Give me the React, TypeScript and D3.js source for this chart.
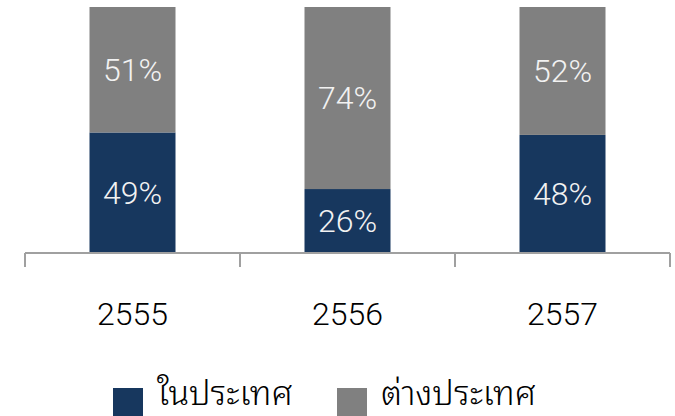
import React from "react";
import * as d3 from "d3";

const categories = ["2555", "2556", "2557"];
const domestic = [0.49, 0.26, 0.48];
const foreign = [0.51, 0.74, 0.52];
const seriesNames = ["ในประเทศ", "ต่างประเทศ"];
const seriesColors = ["#17375E", "#808080"];

const W = 675;
const H = 416;

export default function App() {
  const x = d3
    .scaleBand<string>()
    .domain(categories)
    .range([25, 670])
    .paddingInner(0.6)
    .paddingOuter(0.3);
  const y = d3.scaleLinear().domain([0, 1]).range([253, 7]);

  const rows = categories.map((c, i) => ({ cat: c, d: domestic[i], f: foreign[i] }));
  const stack = d3.stack<any>().keys(["d", "f"])(rows);

  const step = x.step();
  const tickXs = categories.map((c) => (x(c) as number) - step * 0.3);
  tickXs.push(670);

  const numFont = "Roboto, 'Liberation Sans', Arial, sans-serif";
  const thaiFont = "'Noto Sans Thai Looped', 'Noto Serif Thai', 'Noto Sans Thai', 'Noto Sans', sans-serif";

  return (
    <svg
      width={W}
      height={H}
      style={{ position: "absolute", left: 0, top: 0, background: "#fff" }}
    >
      {stack.map((layer, si) => (
        <g key={si} fill={seriesColors[si]}>
          {layer.map((seg, i) => {
            const x0 = x(categories[i]) as number;
            const yTop = y(seg[1]);
            const yBot = y(seg[0]);
            return (
              <g key={i}>
                <rect x={x0} y={yTop} width={x.bandwidth()} height={yBot - yTop} />
                <text
                  x={x0 + x.bandwidth() / 2}
                  y={(yTop + yBot) / 2 + 11}
                  textAnchor="middle"
                  fill="#f2f2f2"
                  fontFamily={numFont}
                  fontWeight={300}
                  fontSize={32}
                >
                  {Math.round((seg[1] - seg[0]) * 100)}%
                </text>
              </g>
            );
          })}
        </g>
      ))}
      <line x1={25} x2={670} y1={y(0)} y2={y(0)} stroke="#a0a0a0" strokeWidth={2} />
      {tickXs.map((tx, i) => (
        <line key={i} x1={tx} x2={tx} y1={y(0)} y2={y(0) + 14} stroke="#a0a0a0" strokeWidth={2} />
      ))}
      {categories.map((c) => (
        <text
          key={c}
          x={(x(c) as number) + x.bandwidth() / 2}
          y={325}
          textAnchor="middle"
          fill="#000"
          fontFamily={numFont}
          fontWeight={300}
          fontSize={32}
        >
          {c}
        </text>
      ))}
      {seriesNames.map((n, i) => {
        const lx = i === 0 ? 113 : 337;
        return (
          <g key={n}>
            <rect x={lx} y={388} width={30} height={30} fill={seriesColors[i]} />
            <text x={lx + 44} y={405} fill="#000" fontFamily={thaiFont} fontWeight={300} fontSize={34}>
              {n}
            </text>
          </g>
        );
      })}
    </svg>
  );
}
